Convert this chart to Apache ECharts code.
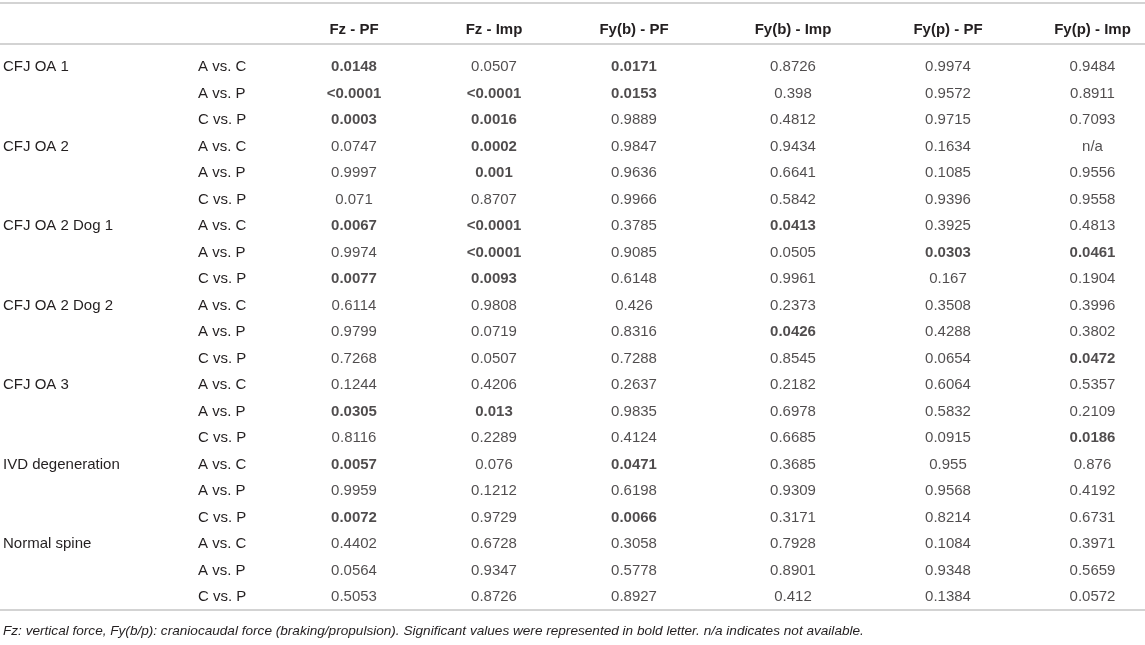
<!DOCTYPE html>
<html>
<head>
<meta charset="utf-8">
<script src="https://cdn.jsdelivr.net/npm/echarts@6/dist/echarts.min.js"></script>
<style>
html,body{margin:0;padding:0;background:#fff;}
#chart{width:1145px;height:645px;}
</style>
</head>
<body>
<div id="chart"></div>
<script>
// ---- data ----
var groups = ["CFJ OA 1","CFJ OA 2","CFJ OA 2 Dog 1","CFJ OA 2 Dog 2","CFJ OA 3","IVD degeneration","Normal spine"];
var comparisons = ["A vs. C","A vs. P","C vs. P"];
var columns = ["Fz - PF","Fz - Imp","Fy(b) - PF","Fy(b) - Imp","Fy(p) - PF","Fy(p) - Imp"];

var fzPF   = ["0.0148","<0.0001","0.0003","0.0747","0.9997","0.071","0.0067","0.9974","0.0077","0.6114","0.9799","0.7268","0.1244","0.0305","0.8116","0.0057","0.9959","0.0072","0.4402","0.0564","0.5053"];
var fzImp  = ["0.0507","<0.0001","0.0016","0.0002","0.001","0.8707","<0.0001","<0.0001","0.0093","0.9808","0.0719","0.0507","0.4206","0.013","0.2289","0.076","0.1212","0.9729","0.6728","0.9347","0.8726"];
var fybPF  = ["0.0171","0.0153","0.9889","0.9847","0.9636","0.9966","0.3785","0.9085","0.6148","0.426","0.8316","0.7288","0.2637","0.9835","0.4124","0.0471","0.6198","0.0066","0.3058","0.5778","0.8927"];
var fybImp = ["0.8726","0.398","0.4812","0.9434","0.6641","0.5842","0.0413","0.0505","0.9961","0.2373","0.0426","0.8545","0.2182","0.6978","0.6685","0.3685","0.9309","0.3171","0.7928","0.8901","0.412"];
var fypPF  = ["0.9974","0.9572","0.9715","0.1634","0.1085","0.9396","0.3925","0.0303","0.167","0.3508","0.4288","0.0654","0.6064","0.5832","0.0915","0.955","0.9568","0.8214","0.1084","0.9348","0.1384"];
var fypImp = ["0.9484","0.8911","0.7093","n/a","0.9556","0.9558","0.4813","0.0461","0.1904","0.3996","0.3802","0.0472","0.5357","0.2109","0.0186","0.876","0.4192","0.6731","0.3971","0.5659","0.0572"];

var footnote = "Fz: vertical force, Fy(b/p): craniocaudal force (braking/propulsion). Significant values were represented in bold letter. n/a indicates not available.";

// ---- layout / style ----
var FONT = "'Liberation Sans', Arial, Helvetica, sans-serif";
var TXT = "#231f20";
var FS = 15;
var colCenters = [354, 494, 634, 793, 948, 1100];
var colW = 120;
var gridTop = 53.75, gridBottom = 645 - (53.75 + 21 * 26.5);

var allCols = [fzPF, fzImp, fybPF, fybImp, fypPF, fypImp];

var rowComp = [], rowGroup = [];
groups.forEach(function (g) {
  comparisons.forEach(function (c, j) {
    rowComp.push(c);
    rowGroup.push(j === 0 ? g : "");
  });
});
var rowIdx = rowComp.map(function (_, i) { return i; });

function isSig(v) {
  if (v.charAt(0) === "<") return true;
  var n = parseFloat(v);
  return !isNaN(n) && n < 0.05;
}

var grids = [], xAxes = [], yAxes = [], series = [];
columns.forEach(function (col, c) {
  grids.push({ left: colCenters[c] - colW / 2, width: colW, top: gridTop, bottom: gridBottom, containLabel: false });
  xAxes.push({
    type: "category", gridIndex: c, position: "top", data: [col],
    axisLine: { show: false }, axisTick: { show: false }, splitLine: { show: false },
    axisLabel: { show: true, fontFamily: FONT, fontSize: FS, fontWeight: "bold", color: TXT, margin: 24, verticalAlign: "middle" }
  });
});
// row label axes in first grid
var labelBase = { type: "category", gridIndex: 0, inverse: true, axisLine: { show: false }, axisTick: { show: false }, splitLine: { show: false } };
yAxes.push(Object.assign({}, labelBase, {
  data: rowComp,
  axisLabel: { show: true, interval: 0, align: "left", margin: colCenters[0] - colW / 2 - 198, fontFamily: FONT, fontSize: FS, color: TXT }
}));
yAxes.push(Object.assign({}, labelBase, {
  data: rowGroup, position: "left",
  axisLabel: { show: true, interval: 0, align: "left", margin: colCenters[0] - colW / 2 - 3, fontFamily: FONT, fontSize: FS, color: TXT }
}));
for (var c = 1; c < columns.length; c++) {
  yAxes.push({ type: "category", gridIndex: c, inverse: true, data: rowIdx, show: false });
}

allCols.forEach(function (arr, c) {
  series.push({
    type: "scatter",
    xAxisIndex: c,
    yAxisIndex: c === 0 ? 0 : c + 1,
    symbolSize: 0,
    silent: true,
    data: arr.map(function (v, i) {
      return {
        value: [0, i],
        label: { formatter: v, fontWeight: isSig(v) ? "bold" : "normal" }
      };
    }),
    label: { show: true, position: "inside", fontFamily: FONT, fontSize: FS, color: TXT }
  });
});

var chart = echarts.init(document.getElementById("chart"), null, { renderer: "canvas" });
chart.setOption({
  backgroundColor: "#fff",
  animation: false,
  title: {
    text: footnote, left: 3, top: 624, padding: 0,
    textStyle: { fontFamily: FONT, fontSize: 13.6, fontStyle: "italic", fontWeight: "normal", color: TXT }
  },
  grid: grids,
  xAxis: xAxes,
  yAxis: yAxes,
  series: series,
  graphic: [
    { type: "line", shape: { x1: 0, y1: 3, x2: 1145, y2: 3 }, style: { stroke: "#c4c4c4", lineWidth: 1.5 } },
    { type: "line", shape: { x1: 0, y1: 44, x2: 1145, y2: 44 }, style: { stroke: "#c4c4c4", lineWidth: 1.5 } },
    { type: "line", shape: { x1: 0, y1: 610, x2: 1145, y2: 610 }, style: { stroke: "#c4c4c4", lineWidth: 1.5 } }
  ]
});
</script>
</body>
</html>
